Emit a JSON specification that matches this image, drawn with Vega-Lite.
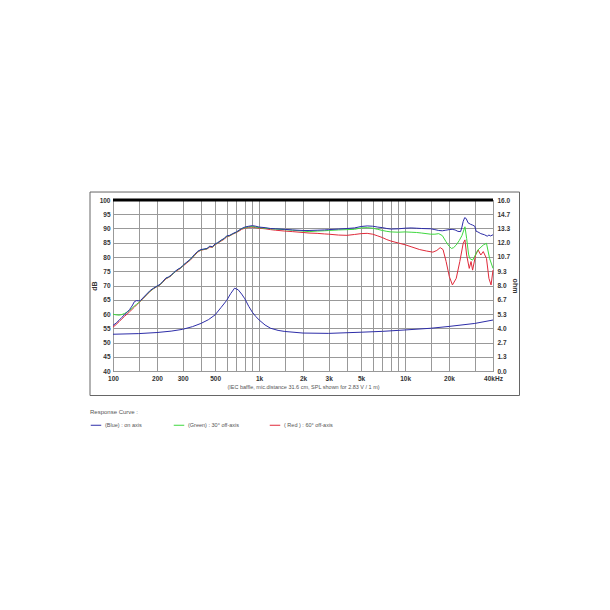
{
"$schema": "https://vega.github.io/schema/vega-lite/v6.json",
"width": 380,
"height": 171,
"autosize": {"type": "none"},
"padding": {"left": 113, "top": 200, "right": 117, "bottom": 239},
"background": "white",
"config": {
  "font": "Liberation Sans",
  "view": {"stroke": "#555", "strokeWidth": 1},
  "axis": {"ticks": false, "domain": false, "labelFontSize": 6.5, "labelFontWeight": "bold", "labelColor": "#333", "titleFontSize": 7, "titleFontWeight": "bold", "titleColor": "#333", "gridColor": "#999", "gridWidth": 1, "labelOverlap": false, "labelFlush": false},
  "axisLeft": {"grid": true, "labelPadding": 3, "titlePadding": 2},
  "axisRight": {"grid": false, "labelPadding": 4, "titlePadding": 2},
  "axisBottom": {"grid": true, "labelPadding": 4, "titleFontSize": 5.5, "titleFontWeight": "normal", "titleColor": "#555", "titlePadding": 3}
},
"datasets": {
"spl": [
{"c":"Red","f":100,"v":55.4},{"c":"Red","f":105,"v":56.3},{"c":"Red","f":110,"v":57.3},{"c":"Red","f":115,"v":58.3},{"c":"Red","f":120,"v":59.2},{"c":"Red","f":125,"v":60.0},{"c":"Red","f":130,"v":60.8},{"c":"Red","f":135,"v":61.6},{"c":"Red","f":140,"v":62.4},{"c":"Red","f":145,"v":63.2},{"c":"Red","f":150,"v":63.9},{"c":"Red","f":155,"v":64.6},{"c":"Red","f":160,"v":65.3},{"c":"Red","f":170,"v":66.7},{"c":"Red","f":180,"v":68.0},{"c":"Red","f":190,"v":68.9},{"c":"Red","f":200,"v":69.6},{"c":"Red","f":210,"v":70.2},{"c":"Red","f":220,"v":71.2},{"c":"Red","f":230,"v":72.3},{"c":"Red","f":240,"v":72.8},{"c":"Red","f":250,"v":73.4},{"c":"Red","f":260,"v":74.3},{"c":"Red","f":270,"v":75.0},{"c":"Red","f":280,"v":75.5},{"c":"Red","f":290,"v":76.0},{"c":"Red","f":300,"v":76.7},{"c":"Red","f":320,"v":77.9},{"c":"Red","f":340,"v":79.0},{"c":"Red","f":360,"v":80.4},{"c":"Red","f":380,"v":81.7},{"c":"Red","f":400,"v":82.4},{"c":"Red","f":420,"v":82.6},{"c":"Red","f":440,"v":82.8},{"c":"Red","f":460,"v":83.5},{"c":"Red","f":480,"v":83.4},{"c":"Red","f":500,"v":84.3},{"c":"Red","f":520,"v":84.8},{"c":"Red","f":550,"v":85.6},{"c":"Red","f":580,"v":86.3},{"c":"Red","f":600,"v":87.1},{"c":"Red","f":630,"v":87.4},{"c":"Red","f":660,"v":88.0},{"c":"Red","f":700,"v":88.6},{"c":"Red","f":730,"v":89.1},{"c":"Red","f":760,"v":89.7},{"c":"Red","f":800,"v":90.1},{"c":"Red","f":850,"v":90.4},{"c":"Red","f":900,"v":90.5},{"c":"Red","f":950,"v":90.3},{"c":"Red","f":1000,"v":90.1},{"c":"Red","f":1100,"v":89.9},{"c":"Red","f":1200,"v":89.6},{"c":"Red","f":1300,"v":89.4},{"c":"Red","f":1500,"v":89.1},{"c":"Red","f":1700,"v":88.9},{"c":"Red","f":2000,"v":88.6},{"c":"Red","f":2200,"v":88.4},{"c":"Red","f":2500,"v":88.3},{"c":"Red","f":2800,"v":88.1},{"c":"Red","f":3000,"v":88.0},{"c":"Red","f":3500,"v":87.7},{"c":"Red","f":4000,"v":87.6},{"c":"Red","f":4500,"v":87.9},{"c":"Red","f":5000,"v":88.2},{"c":"Red","f":5500,"v":88.3},{"c":"Red","f":6000,"v":88.0},{"c":"Red","f":6500,"v":87.4},{"c":"Red","f":7000,"v":86.8},{"c":"Red","f":7500,"v":86.1},{"c":"Red","f":8000,"v":85.6},{"c":"Red","f":9000,"v":84.9},{"c":"Red","f":10000,"v":84.3},{"c":"Red","f":11000,"v":83.6},{"c":"Red","f":12600,"v":82.6},{"c":"Red","f":14000,"v":82.1},{"c":"Red","f":15500,"v":81.7},{"c":"Red","f":16500,"v":82.3},{"c":"Red","f":17400,"v":83.3},{"c":"Red","f":18200,"v":82.6},{"c":"Red","f":19100,"v":78.4},{"c":"Red","f":20100,"v":73.1},{"c":"Red","f":21100,"v":70.2},{"c":"Red","f":22400,"v":72.5},{"c":"Red","f":23700,"v":78.4},{"c":"Red","f":25000,"v":84.8},{"c":"Red","f":25700,"v":86.0},{"c":"Red","f":26400,"v":80.7},{"c":"Red","f":27500,"v":76.0},{"c":"Red","f":28300,"v":78.4},{"c":"Red","f":29000,"v":75.4},{"c":"Red","f":30400,"v":80.7},{"c":"Red","f":31600,"v":82.5},{"c":"Red","f":33000,"v":80.7},{"c":"Red","f":34300,"v":81.9},{"c":"Red","f":36100,"v":79.5},{"c":"Red","f":37500,"v":72.5},{"c":"Red","f":38800,"v":70.2},{"c":"Red","f":40000,"v":75.4},
{"c":"Green","f":100,"v":59.9},{"c":"Green","f":105,"v":59.7},{"c":"Green","f":110,"v":59.6},{"c":"Green","f":115,"v":59.8},{"c":"Green","f":120,"v":60.2},{"c":"Green","f":125,"v":60.7},{"c":"Green","f":130,"v":61.3},{"c":"Green","f":135,"v":62.0},{"c":"Green","f":140,"v":62.8},{"c":"Green","f":145,"v":63.4},{"c":"Green","f":150,"v":64.0},{"c":"Green","f":155,"v":64.7},{"c":"Green","f":160,"v":65.4},{"c":"Green","f":170,"v":66.8},{"c":"Green","f":180,"v":68.1},{"c":"Green","f":190,"v":69.0},{"c":"Green","f":200,"v":69.7},{"c":"Green","f":210,"v":70.3},{"c":"Green","f":220,"v":71.4},{"c":"Green","f":230,"v":72.5},{"c":"Green","f":240,"v":72.9},{"c":"Green","f":250,"v":73.5},{"c":"Green","f":260,"v":74.4},{"c":"Green","f":270,"v":75.1},{"c":"Green","f":280,"v":75.7},{"c":"Green","f":290,"v":76.1},{"c":"Green","f":300,"v":76.9},{"c":"Green","f":320,"v":78.1},{"c":"Green","f":340,"v":79.2},{"c":"Green","f":360,"v":80.6},{"c":"Green","f":380,"v":81.9},{"c":"Green","f":400,"v":82.5},{"c":"Green","f":420,"v":82.7},{"c":"Green","f":440,"v":82.9},{"c":"Green","f":460,"v":83.7},{"c":"Green","f":480,"v":83.5},{"c":"Green","f":500,"v":84.5},{"c":"Green","f":520,"v":84.9},{"c":"Green","f":550,"v":85.8},{"c":"Green","f":580,"v":86.5},{"c":"Green","f":600,"v":87.3},{"c":"Green","f":630,"v":87.5},{"c":"Green","f":660,"v":88.1},{"c":"Green","f":700,"v":88.7},{"c":"Green","f":730,"v":89.3},{"c":"Green","f":760,"v":89.9},{"c":"Green","f":800,"v":90.3},{"c":"Green","f":850,"v":90.6},{"c":"Green","f":900,"v":90.7},{"c":"Green","f":950,"v":90.5},{"c":"Green","f":1000,"v":90.3},{"c":"Green","f":1100,"v":90.1},{"c":"Green","f":1200,"v":89.9},{"c":"Green","f":1300,"v":89.8},{"c":"Green","f":1500,"v":89.6},{"c":"Green","f":1700,"v":89.4},{"c":"Green","f":2000,"v":89.1},{"c":"Green","f":2200,"v":88.9},{"c":"Green","f":2500,"v":89.1},{"c":"Green","f":2800,"v":89.2},{"c":"Green","f":3000,"v":89.3},{"c":"Green","f":3500,"v":89.5},{"c":"Green","f":4000,"v":89.6},{"c":"Green","f":4500,"v":89.7},{"c":"Green","f":5000,"v":90.2},{"c":"Green","f":5500,"v":90.3},{"c":"Green","f":6000,"v":90.1},{"c":"Green","f":6500,"v":89.7},{"c":"Green","f":7000,"v":89.3},{"c":"Green","f":7500,"v":89.0},{"c":"Green","f":8000,"v":88.8},{"c":"Green","f":9000,"v":88.7},{"c":"Green","f":10000,"v":88.8},{"c":"Green","f":11000,"v":88.7},{"c":"Green","f":12000,"v":88.6},{"c":"Green","f":13000,"v":88.4},{"c":"Green","f":15000,"v":88.0},{"c":"Green","f":16000,"v":88.0},{"c":"Green","f":17000,"v":88.2},{"c":"Green","f":18000,"v":87.5},{"c":"Green","f":19000,"v":85.5},{"c":"Green","f":20000,"v":83.8},{"c":"Green","f":20800,"v":83.0},{"c":"Green","f":21500,"v":83.3},{"c":"Green","f":22400,"v":84.2},{"c":"Green","f":23500,"v":85.8},{"c":"Green","f":24500,"v":87.5},{"c":"Green","f":25700,"v":90.6},{"c":"Green","f":26400,"v":86.5},{"c":"Green","f":27200,"v":81.0},{"c":"Green","f":27700,"v":79.5},{"c":"Green","f":29000,"v":78.9},{"c":"Green","f":30000,"v":80.3},{"c":"Green","f":31600,"v":82.5},{"c":"Green","f":34300,"v":84.2},{"c":"Green","f":36100,"v":84.8},{"c":"Green","f":37900,"v":79.5},{"c":"Green","f":40000,"v":76.0},
{"c":"Blue","f":100,"v":56.0},{"c":"Blue","f":105,"v":56.8},{"c":"Blue","f":110,"v":57.8},{"c":"Blue","f":115,"v":58.8},{"c":"Blue","f":120,"v":59.8},{"c":"Blue","f":125,"v":60.6},{"c":"Blue","f":130,"v":61.6},{"c":"Blue","f":135,"v":62.8},{"c":"Blue","f":140,"v":64.3},{"c":"Blue","f":145,"v":64.7},{"c":"Blue","f":150,"v":64.6},{"c":"Blue","f":155,"v":64.8},{"c":"Blue","f":160,"v":65.6},{"c":"Blue","f":170,"v":67.0},{"c":"Blue","f":180,"v":68.3},{"c":"Blue","f":190,"v":69.1},{"c":"Blue","f":200,"v":69.8},{"c":"Blue","f":210,"v":70.4},{"c":"Blue","f":220,"v":71.5},{"c":"Blue","f":230,"v":72.6},{"c":"Blue","f":240,"v":73.0},{"c":"Blue","f":250,"v":73.6},{"c":"Blue","f":260,"v":74.5},{"c":"Blue","f":270,"v":75.2},{"c":"Blue","f":280,"v":75.8},{"c":"Blue","f":290,"v":76.2},{"c":"Blue","f":300,"v":77.0},{"c":"Blue","f":320,"v":78.2},{"c":"Blue","f":340,"v":79.3},{"c":"Blue","f":360,"v":80.8},{"c":"Blue","f":380,"v":82.0},{"c":"Blue","f":400,"v":82.6},{"c":"Blue","f":420,"v":82.8},{"c":"Blue","f":440,"v":83.0},{"c":"Blue","f":460,"v":83.8},{"c":"Blue","f":480,"v":83.6},{"c":"Blue","f":500,"v":84.6},{"c":"Blue","f":520,"v":85.0},{"c":"Blue","f":550,"v":85.9},{"c":"Blue","f":580,"v":86.6},{"c":"Blue","f":600,"v":87.4},{"c":"Blue","f":630,"v":87.6},{"c":"Blue","f":660,"v":88.2},{"c":"Blue","f":700,"v":88.8},{"c":"Blue","f":730,"v":89.4},{"c":"Blue","f":760,"v":90.0},{"c":"Blue","f":800,"v":90.5},{"c":"Blue","f":850,"v":90.8},{"c":"Blue","f":900,"v":91.0},{"c":"Blue","f":950,"v":90.8},{"c":"Blue","f":1000,"v":90.5},{"c":"Blue","f":1100,"v":90.3},{"c":"Blue","f":1200,"v":90.0},{"c":"Blue","f":1300,"v":89.9},{"c":"Blue","f":1500,"v":89.7},{"c":"Blue","f":1700,"v":89.5},{"c":"Blue","f":2000,"v":89.3},{"c":"Blue","f":2200,"v":89.3},{"c":"Blue","f":2500,"v":89.4},{"c":"Blue","f":2800,"v":89.5},{"c":"Blue","f":3000,"v":89.6},{"c":"Blue","f":3500,"v":89.8},{"c":"Blue","f":4000,"v":90.0},{"c":"Blue","f":4500,"v":90.2},{"c":"Blue","f":5000,"v":90.7},{"c":"Blue","f":5500,"v":90.9},{"c":"Blue","f":6000,"v":90.8},{"c":"Blue","f":6500,"v":90.5},{"c":"Blue","f":7000,"v":90.3},{"c":"Blue","f":7500,"v":90.0},{"c":"Blue","f":8000,"v":89.8},{"c":"Blue","f":9000,"v":89.9},{"c":"Blue","f":10000,"v":90.1},{"c":"Blue","f":11000,"v":90.2},{"c":"Blue","f":12000,"v":90.1},{"c":"Blue","f":13000,"v":90.0},{"c":"Blue","f":15000,"v":89.9},{"c":"Blue","f":16000,"v":89.6},{"c":"Blue","f":17000,"v":89.3},{"c":"Blue","f":18000,"v":89.2},{"c":"Blue","f":19000,"v":89.4},{"c":"Blue","f":20000,"v":89.6},{"c":"Blue","f":21000,"v":89.7},{"c":"Blue","f":22000,"v":89.5},{"c":"Blue","f":23000,"v":89.0},{"c":"Blue","f":24000,"v":88.9},{"c":"Blue","f":24500,"v":90.5},{"c":"Blue","f":25000,"v":92.5},{"c":"Blue","f":25600,"v":93.8},{"c":"Blue","f":26200,"v":93.5},{"c":"Blue","f":27000,"v":92.0},{"c":"Blue","f":28000,"v":91.5},{"c":"Blue","f":29000,"v":91.2},{"c":"Blue","f":30000,"v":90.8},{"c":"Blue","f":30700,"v":89.0},{"c":"Blue","f":31500,"v":88.8},{"c":"Blue","f":33000,"v":88.2},{"c":"Blue","f":35000,"v":87.8},{"c":"Blue","f":36500,"v":87.3},{"c":"Blue","f":37500,"v":87.7},{"c":"Blue","f":38500,"v":87.4},{"c":"Blue","f":40000,"v":87.8}
],
"imp": [{"f":100,"ohm":3.44},{"f":150,"ohm":3.5},{"f":200,"ohm":3.6},{"f":250,"ohm":3.73},{"f":300,"ohm":3.9},{"f":350,"ohm":4.15},{"f":400,"ohm":4.45},{"f":450,"ohm":4.8},{"f":500,"ohm":5.25},{"f":550,"ohm":5.95},{"f":600,"ohm":6.6},{"f":640,"ohm":7.25},{"f":680,"ohm":7.75},{"f":720,"ohm":7.6},{"f":760,"ohm":7.2},{"f":800,"ohm":6.75},{"f":850,"ohm":6.05},{"f":900,"ohm":5.5},{"f":950,"ohm":5.1},{"f":1000,"ohm":4.78},{"f":1100,"ohm":4.3},{"f":1200,"ohm":4.0},{"f":1350,"ohm":3.8},{"f":1500,"ohm":3.7},{"f":2000,"ohm":3.55},{"f":3000,"ohm":3.52},{"f":5000,"ohm":3.63},{"f":7000,"ohm":3.71},{"f":10000,"ohm":3.84},{"f":15000,"ohm":4.0},{"f":20000,"ohm":4.17},{"f":30000,"ohm":4.45},{"f":40000,"ohm":4.77}]
},
"layer": [
 {
  "layer": [
   {
    "data": {"values": [{}]},
    "mark": {"type": "rect", "fill": null, "stroke": "#666", "strokeWidth": 1},
    "encoding": {
     "x": {"datum": 69.6, "type": "quantitative", "scale": {"type": "log", "domain": [100, 40000], "nice": false},
      "axis": {"values": [100,150,200,300,400,500,600,700,800,900,1000,1500,2000,3000,4000,5000,6000,7000,8000,9000,10000,15000,20000,30000,40000],
       "labelExpr": "datum.value == 100 ? '100' : datum.value == 200 ? '200' : datum.value == 300 ? '300' : datum.value == 500 ? '500' : datum.value == 1000 ? '1k' : datum.value == 2000 ? '2k' : datum.value == 3000 ? '3k' : datum.value == 5000 ? '5k' : datum.value == 10000 ? '10k' : datum.value == 20000 ? '20k' : datum.value == 40000 ? '40kHz' : ''",
       "title": "(IEC baffle, mic.distance 31.6 cm, SPL shown for 2.83 V / 1 m)"}},
     "x2": {"datum": 60760},
     "y": {"datum": 102.8, "type": "quantitative", "scale": {"domain": [40, 100], "nice": false, "zero": false},
      "axis": {"orient": "left", "values": [40,45,50,55,60,65,70,75,80,85,90,95,100], "title": "dB"}},
     "y2": {"datum": 31.4}
    }
   },
   {
    "data": {"name": "spl"},
    "mark": {"type": "line", "strokeWidth": 1},
    "encoding": {
     "x": {"field": "f", "type": "quantitative", "scale": {"type": "log", "domain": [100, 40000], "nice": false},
      "axis": {"values": [100,150,200,300,400,500,600,700,800,900,1000,1500,2000,3000,4000,5000,6000,7000,8000,9000,10000,15000,20000,30000,40000],
       "labelExpr": "datum.value == 100 ? '100' : datum.value == 200 ? '200' : datum.value == 300 ? '300' : datum.value == 500 ? '500' : datum.value == 1000 ? '1k' : datum.value == 2000 ? '2k' : datum.value == 3000 ? '3k' : datum.value == 5000 ? '5k' : datum.value == 10000 ? '10k' : datum.value == 20000 ? '20k' : datum.value == 40000 ? '40kHz' : ''",
       "title": "(IEC baffle, mic.distance 31.6 cm, SPL shown for 2.83 V / 1 m)"}},
     "y": {"field": "v", "type": "quantitative", "scale": {"domain": [40, 100], "nice": false, "zero": false},
      "axis": {"orient": "left", "values": [40,45,50,55,60,65,70,75,80,85,90,95,100], "title": "dB"}},
     "color": {
      "field": "c", "type": "nominal",
      "scale": {"domain": ["Blue", "Green", "Red"], "range": ["#2d2da8", "#3ed83e", "#e02a3a"]},
      "legend": {
       "orient": "none", "legendX": -23, "legendY": 209,
       "direction": "horizontal", "columns": 3, "columnPadding": 27,
       "title": "Response Curve :", "titleFontSize": 6, "titleFontWeight": "normal", "titleColor": "#555", "titlePadding": 4,
       "symbolType": "stroke", "symbolSize": 110, "symbolStrokeWidth": 1,
       "labelFontSize": 5.5, "labelColor": "#555", "labelOffset": 3,
       "labelExpr": "datum.label == 'Blue' ? '(Blue)  : on axis' : datum.label == 'Green' ? '(Green) : 30° off-axis' : '( Red ) : 60° off-axis'"
      }
     }
    }
   },
   {
    "data": {"values": [{}]},
    "mark": {"type": "rule", "color": "#000", "strokeWidth": 3},
    "encoding": {
     "y": {"datum": 100, "type": "quantitative", "scale": {"domain": [40, 100], "nice": false, "zero": false},
      "axis": {"orient": "left", "values": [40,45,50,55,60,65,70,75,80,85,90,95,100], "title": "dB"}}
    }
   }
  ]
 },
 {
  "data": {"name": "imp"},
  "mark": {"type": "line", "color": "#2d2da8", "strokeWidth": 1},
  "encoding": {
   "x": {"field": "f", "type": "quantitative", "scale": {"type": "log", "domain": [100, 40000], "nice": false},
    "axis": {"values": [100,150,200,300,400,500,600,700,800,900,1000,1500,2000,3000,4000,5000,6000,7000,8000,9000,10000,15000,20000,30000,40000],
     "labelExpr": "datum.value == 100 ? '100' : datum.value == 200 ? '200' : datum.value == 300 ? '300' : datum.value == 500 ? '500' : datum.value == 1000 ? '1k' : datum.value == 2000 ? '2k' : datum.value == 3000 ? '3k' : datum.value == 5000 ? '5k' : datum.value == 10000 ? '10k' : datum.value == 20000 ? '20k' : datum.value == 40000 ? '40kHz' : ''",
     "title": "(IEC baffle, mic.distance 31.6 cm, SPL shown for 2.83 V / 1 m)"}},
   "y": {
    "field": "ohm", "type": "quantitative",
    "scale": {"domain": [0, 16], "nice": false, "zero": false},
    "axis": {"orient": "right", "values": [0, 1.3333, 2.6667, 4, 5.3333, 6.6667, 8, 9.3333, 10.6667, 12, 13.3333, 14.6667, 16], "format": ".1f", "title": "ohm"}
   }
  }
 }
],
"resolve": {"scale": {"y": "independent"}}
}
